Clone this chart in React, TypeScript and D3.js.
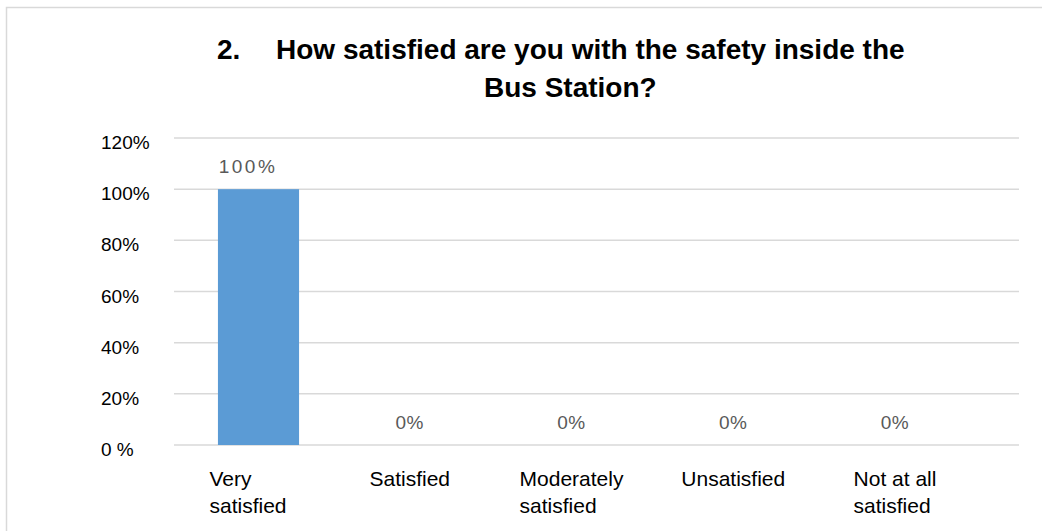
import React, { useEffect, useRef } from "react";
import * as d3 from "d3";

const categories: string[] = [
  "Very satisfied",
  "Satisfied",
  "Moderately satisfied",
  "Unsatisfied",
  "Not at all satisfied",
];
const categoryLines: string[][] = [
  ["Very", "satisfied"],
  ["Satisfied"],
  ["Moderately", "satisfied"],
  ["Unsatisfied"],
  ["Not at all", "satisfied"],
];
const values: number[] = [1.0, 0, 0, 0, 0];
const valueLabels: string[] = ["100%", "0%", "0%", "0%", "0%"];
const yTicks: number[] = [0, 0.2, 0.4, 0.6, 0.8, 1.0, 1.2];
const yTickLabels: string[] = ["0 %", "20%", "40%", "60%", "80%", "100%", "120%"];
const titleNumber = "2.";
const titleLine1 = "How satisfied are you with the safety inside the";
const titleLine2 = "Bus Station?";

const W = 1042;
const H = 531;
const FONT = "'Liberation Sans', Arial, Helvetica, sans-serif";

export default function App() {
  const ref = useRef<SVGSVGElement | null>(null);

  useEffect(() => {
    const svg = d3.select(ref.current);
    svg.selectAll("*").remove();

    const plotLeft = 174;
    const plotRight = 1019;
    const plotBottom = 445;
    const plotTop = 138;

    const x = d3
      .scaleBand<string>()
      .domain(categories)
      .range([plotLeft, plotRight])
      .paddingInner(0.52)
      .paddingOuter(0.26);
    const xLabel = d3.scalePoint<string>().domain(categories).range([248, 895]);
    const y = d3.scaleLinear().domain([0, 1.2]).range([plotBottom, plotTop]);

    // border
    svg
      .append("rect")
      .attr("x", 6.5)
      .attr("y", 7.5)
      .attr("width", W + 50)
      .attr("height", H + 50)
      .attr("fill", "#fff")
      .attr("stroke", "#d9d9d9")
      .attr("stroke-width", 1.5);

    // title
    const t1 = svg
      .append("text")
      .attr("font-family", FONT)
      .attr("font-weight", "bold")
      .attr("font-size", 28)
      .attr("fill", "#000");
    t1.append("tspan").attr("x", 217).attr("y", 59).text(titleNumber);
    t1.append("tspan").attr("x", 276).attr("y", 59).text(titleLine1);
    svg
      .append("text")
      .attr("font-family", FONT)
      .attr("font-weight", "bold")
      .attr("font-size", 28)
      .attr("fill", "#000")
      .attr("x", 484)
      .attr("y", 97)
      .text(titleLine2);

    // gridlines
    svg
      .append("g")
      .selectAll("line")
      .data(yTicks)
      .join("line")
      .attr("x1", plotLeft)
      .attr("x2", plotRight)
      .attr("y1", (d) => y(d))
      .attr("y2", (d) => y(d))
      .attr("stroke", "#d9d9d9")
      .attr("stroke-width", 1.5);

    // y tick labels
    svg
      .append("g")
      .selectAll("text")
      .data(yTicks)
      .join("text")
      .attr("x", 101)
      .attr("y", (d) => y(d) + 11)
      .attr("font-family", FONT)
      .attr("font-size", 19)
      .attr("fill", "#000")
      .text((_, i) => yTickLabels[i]);

    // bars
    svg
      .append("g")
      .selectAll("rect")
      .data(values)
      .join("rect")
      .attr("x", (_, i) => x(categories[i]) as number)
      .attr("width", x.bandwidth())
      .attr("y", (d) => y(d))
      .attr("height", (d) => plotBottom - y(d))
      .attr("fill", "#5b9bd5");

    // value labels
    svg
      .append("g")
      .selectAll("text")
      .data(values)
      .join("text")
      .attr("x", (_, i) => xLabel(categories[i]) as number)
      .attr("y", (d) => y(d) - 16)
      .attr("text-anchor", "middle")
      .attr("font-family", FONT)
      .attr("font-size", 19)
      .attr("letter-spacing", (_, i) => (valueLabels[i].length > 2 ? 2.5 : 0.5))
      .attr("fill", "#595959")
      .text((_, i) => valueLabels[i]);

    // category labels (left-aligned blocks centered on label positions)
    const catG = svg.append("g");
    categories.forEach((c, i) => {
      const tEl = catG
        .append("text")
        .attr("font-family", FONT)
        .attr("font-size", 21)
        .attr("fill", "#000");
      const lines = categoryLines[i];
      const spans = lines.map((ln, j) =>
        tEl.append("tspan").attr("y", 486 + j * 27).text(ln)
      );
      let maxW = 0;
      spans.forEach((s) => {
        const node = s.node() as SVGTSpanElement;
        const w = node.getComputedTextLength();
        if (w > maxW) maxW = w;
      });
      const cx = xLabel(c) as number;
      spans.forEach((s) => s.attr("x", cx - maxW / 2));
    });
  }, []);

  return (
    <svg
      ref={ref}
      width={W}
      height={H}
      style={{ position: "absolute", left: 0, top: 0, background: "#fff" }}
    />
  );
}
